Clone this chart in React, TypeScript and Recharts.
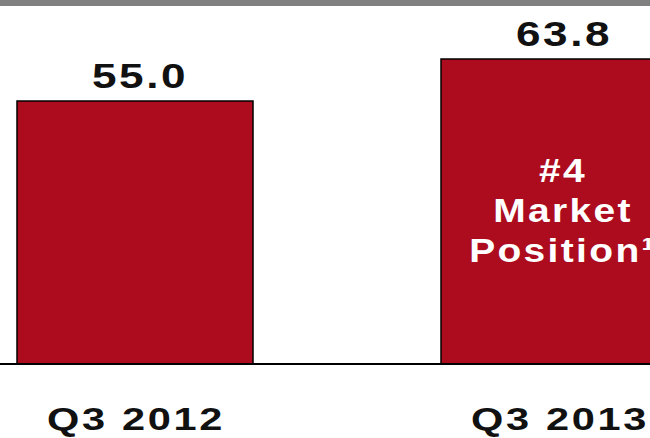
import { BarChart, Bar, XAxis, YAxis, LabelList } from "recharts";

const categories = ["Q3 2012", "Q3 2013"];
const values = [55.0, 63.8];
const calloutLines = ["#4", "Market", "Position¹"];

const data = categories.map((period, i) => ({ period, value: values[i] }));

const font = "'Liberation Sans', Arial, sans-serif";

// wide, stretched bold type like the slide
const Wide = ({ x, y, size, sx, fill, children }: any) => (
  <text
    transform={`translate(${x + 1} ${y}) scale(${sx} 1)`}
    textAnchor="middle"
    fontFamily={font}
    fontWeight="bold"
    fontSize={size}
    letterSpacing={2}
    fill={fill}
  >
    {children}
  </text>
);

const CategoryTick = ({ x, payload }: any) => (
  <Wide x={x} y={430} size={31} sx={1.34} fill="#111">
    {payload.value}
  </Wide>
);

const ValueLabel = ({ x, y, width, value }: any) => (
  <Wide x={x + width / 2 + 4} y={y - 13} size={35} sx={1.26} fill="#111">
    {Number(value).toFixed(1)}
  </Wide>
);

const Callout = ({ x, width, value }: any) => {
  if (value !== categories[1]) return null;
  return (
    <g>
      {calloutLines.map((line, i) => (
        <Wide key={line} x={x + width / 2 + 3} y={182 + i * 40} size={33} sx={1.18} fill="#fff">
          {line}
        </Wide>
      ))}
    </g>
  );
};

export default function App() {
  return (
    <div style={{ position: "fixed", top: 0, left: 0, width: 650, height: 438, overflow: "hidden", background: "#fff" }}>
      <div style={{ position: "absolute", left: -77, top: 0 }}>
        <BarChart width={848} height={438} data={data} margin={{ top: 0, right: 0, left: 0, bottom: 0 }} barSize={236}>
          <XAxis
            dataKey="period"
            height={74}
            axisLine={{ stroke: "#000", strokeWidth: 2 }}
            tickLine={false}
            tickSize={0}
            tick={<CategoryTick />}
            interval={0}
          />
          <YAxis hide domain={[0, 76.15]} />
          <Bar dataKey="value" fill="#ad0c1e" stroke="#000" strokeWidth={1.5} isAnimationActive={false}>
            <LabelList dataKey="value" content={<ValueLabel />} />
            <LabelList dataKey="period" content={<Callout />} />
          </Bar>
        </BarChart>
      </div>
      <div style={{ position: "absolute", left: 0, top: 0, width: 650, height: 6, background: "#808080" }} />
    </div>
  );
}
